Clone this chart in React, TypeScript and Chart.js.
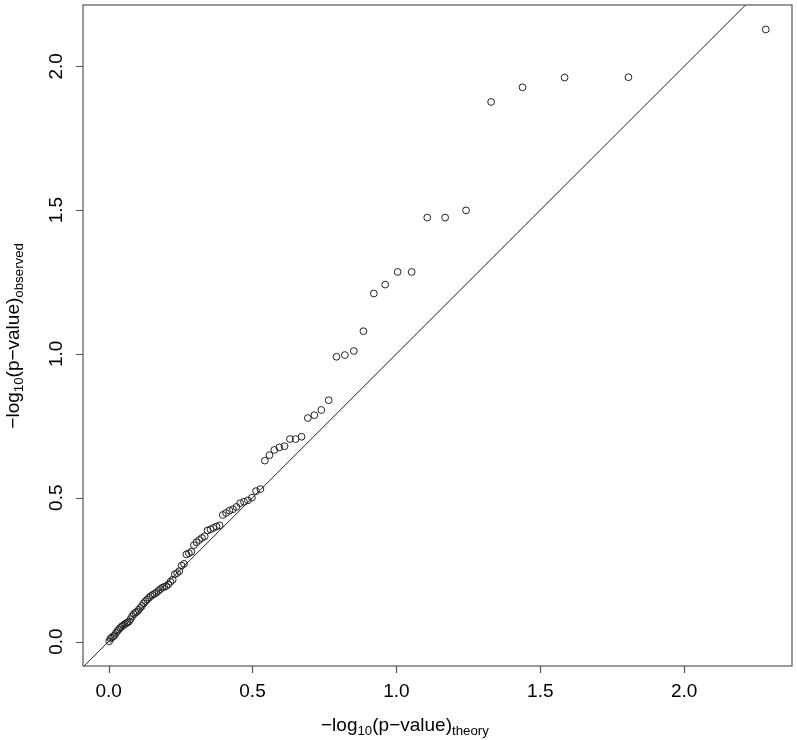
import React, { useEffect, useRef } from "react";
import { Chart, registerables } from "chart.js";

Chart.register(...registerables);

// Theoretical quantiles: -log10(expected p)
const X_THEORY = [
  2.2833, 1.8062, 1.5843, 1.4382, 1.3291, 1.2419, 1.1694, 1.1072, 1.0529, 1.0045,
  0.9611, 0.9216, 0.8854, 0.8519, 0.8209, 0.7919, 0.7648, 0.7392, 0.7151, 0.6922,
  0.6705, 0.6498, 0.6301, 0.6112, 0.5931, 0.5757, 0.559, 0.5429, 0.5274, 0.5124,
  0.498, 0.484, 0.4704, 0.4572, 0.4444, 0.432, 0.42, 0.4082, 0.3968, 0.3857,
  0.3748, 0.3642, 0.3539, 0.3438, 0.3339, 0.3243, 0.3148, 0.3056, 0.2965, 0.2877,
  0.279, 0.2705, 0.2621, 0.2539, 0.2459, 0.238, 0.2302, 0.2226, 0.2151, 0.2078,
  0.2005, 0.1934, 0.1864, 0.1795, 0.1727, 0.166, 0.1595, 0.153, 0.1466, 0.1403,
  0.1341, 0.128, 0.1219, 0.116, 0.1101, 0.1043, 0.0986, 0.093, 0.0874, 0.0819,
  0.0765, 0.0711, 0.0658, 0.0606, 0.0554, 0.0503, 0.0453, 0.0403, 0.0353, 0.0304,
  0.0256, 0.0209, 0.0161, 0.0115, 0.0068, 0.0023,
];

// Observed: -log10(observed p)
const Y_OBSERVED = [
  2.128, 1.962, 1.961, 1.927, 1.876, 1.499, 1.474, 1.474, 1.285, 1.285,
  1.241, 1.21, 1.079, 1.01, 0.996, 0.99, 0.839, 0.805, 0.787, 0.777,
  0.712, 0.704, 0.704, 0.679, 0.675, 0.666, 0.648, 0.629, 0.53, 0.523,
  0.5, 0.491, 0.486, 0.481, 0.468, 0.46, 0.455, 0.447, 0.44, 0.404,
  0.4, 0.395, 0.39, 0.386, 0.366, 0.36, 0.353, 0.345, 0.335, 0.312,
  0.307, 0.303, 0.27, 0.264, 0.245, 0.238, 0.234, 0.215, 0.208, 0.199,
  0.193, 0.19, 0.187, 0.182, 0.176, 0.17, 0.166, 0.162, 0.158, 0.152,
  0.146, 0.14, 0.133, 0.124, 0.117, 0.11, 0.104, 0.1, 0.095, 0.088,
  0.078, 0.07, 0.066, 0.063, 0.06, 0.056, 0.052, 0.047, 0.042, 0.036,
  0.03, 0.022, 0.018, 0.014, 0.01, 0.001,
];

const X_TICKS = [0, 0.5, 1, 1.5, 2];
const X_TICK_LABELS = ["0.0", "0.5", "1.0", "1.5", "2.0"];
const Y_TICKS = [0, 0.5, 1, 1.5, 2];
const Y_TICK_LABELS = ["0.0", "0.5", "1.0", "1.5", "2.0"];

const X_RANGE = [-0.0889, 2.3745];
const Y_RANGE = [-0.0851, 2.2131];
// reference line y = x, spanning the x range
const REF_LINE = [-0.0889, 2.3745];

const FONT = '"Liberation Sans", Arial, Helvetica, sans-serif';
const AXIS_COLOR = "#555555";

function drawRich(
  ctx: CanvasRenderingContext2D,
  parts: { t: string; sub: boolean }[],
  x: number,
  y: number,
  size: number
) {
  let cx = x;
  for (const p of parts) {
    const s = p.sub ? size * 0.7 : size;
    ctx.font = `${s}px ${FONT}`;
    ctx.fillText(p.t, cx, p.sub ? y + 3.5 : y);
    cx += ctx.measureText(p.t).width;
  }
  return cx - x;
}

function richWidth(ctx: CanvasRenderingContext2D, parts: { t: string; sub: boolean }[], size: number) {
  let w = 0;
  for (const p of parts) {
    const s = p.sub ? size * 0.7 : size;
    ctx.font = `${s}px ${FONT}`;
    w += ctx.measureText(p.t).width;
  }
  return w;
}

const axesPlugin = {
  id: "rAxes",
  afterDraw(chart: any) {
    const ctx: CanvasRenderingContext2D = chart.ctx;
    const a = chart.chartArea;
    const xs = chart.scales.x;
    const ys = chart.scales.y;
    ctx.save();
    // box
    ctx.strokeStyle = AXIS_COLOR;
    ctx.lineWidth = 1.2;
    ctx.strokeRect(a.left, a.top, a.right - a.left, a.bottom - a.top);
    // x ticks
    ctx.beginPath();
    X_TICKS.forEach((v) => {
      const px = Math.round(xs.getPixelForValue(v)) + 0.5;
      ctx.moveTo(px, a.bottom);
      ctx.lineTo(px, a.bottom + 7);
    });
    Y_TICKS.forEach((v) => {
      const py = Math.round(ys.getPixelForValue(v)) + 0.5;
      ctx.moveTo(a.left, py);
      ctx.lineTo(a.left - 7, py);
    });
    ctx.stroke();

    ctx.fillStyle = "#000";
    ctx.font = `19px ${FONT}`;
    ctx.textAlign = "center";
    ctx.textBaseline = "alphabetic";
    X_TICKS.forEach((v, i) => {
      ctx.fillText(X_TICK_LABELS[i], xs.getPixelForValue(v), 697);
    });
    Y_TICKS.forEach((v, i) => {
      ctx.save();
      ctx.translate(62, ys.getPixelForValue(v));
      ctx.rotate(-Math.PI / 2);
      ctx.fillText(Y_TICK_LABELS[i], 0, 0);
      ctx.restore();
    });

    // axis titles
    ctx.textAlign = "left";
    const xParts = [
      { t: "\u2212log", sub: false },
      { t: "10", sub: true },
      { t: "(p\u2212value)", sub: false },
      { t: "theory", sub: true },
    ];
    drawRich(ctx, xParts, 321, 731, 19);

    const yParts = [
      { t: "\u2212log", sub: false },
      { t: "10", sub: true },
      { t: "(p\u2212value)", sub: false },
      { t: "observed", sub: true },
    ];
    const yw = richWidth(ctx, yParts, 19);
    ctx.save();
    ctx.translate(19, 243 + yw);
    ctx.rotate(-Math.PI / 2);
    drawRich(ctx, yParts, 0, 0, 19);
    ctx.restore();

    ctx.restore();
  },
};

export default function App() {
  const ref = useRef<HTMLCanvasElement | null>(null);
  useEffect(() => {
    if (!ref.current) return;
    const points = X_THEORY.map((x, i) => ({ x, y: Y_OBSERVED[i] }));
    const chart = new Chart(ref.current, {
      type: "scatter",
      data: {
        datasets: [
          {
            type: "line",
            label: "y = x",
            data: REF_LINE.map((v) => ({ x: v, y: v })),
            borderColor: "#222222",
            borderWidth: 1,
            pointRadius: 0,
            fill: false,
          } as any,
          {
            label: "observed",
            data: points,
            pointStyle: "circle",
            pointRadius: 3.4,
            pointBorderWidth: 1,
            borderColor: "#222222",
            backgroundColor: "rgba(0,0,0,0)",
            pointBackgroundColor: "rgba(0,0,0,0)",
            pointBorderColor: "#222222",
          } as any,
        ],
      },
      options: {
        animation: false,
        responsive: false,
        maintainAspectRatio: false,
        layout: { padding: { left: 83, top: 3, right: 4, bottom: 74 } },
        plugins: {
          legend: { display: false },
          tooltip: { enabled: false },
          title: { display: false },
        },
        scales: {
          x: { type: "linear", min: X_RANGE[0], max: X_RANGE[1], display: false },
          y: { type: "linear", min: Y_RANGE[0], max: Y_RANGE[1], display: false },
        },
      },
      plugins: [axesPlugin],
    });
    return () => chart.destroy();
  }, []);
  return (
    <div style={{ position: "absolute", left: 0, top: 0, width: 797, height: 740, background: "#fff" }}>
      <canvas ref={ref} width={797} height={740} style={{ display: "block" }} />
    </div>
  );
}
